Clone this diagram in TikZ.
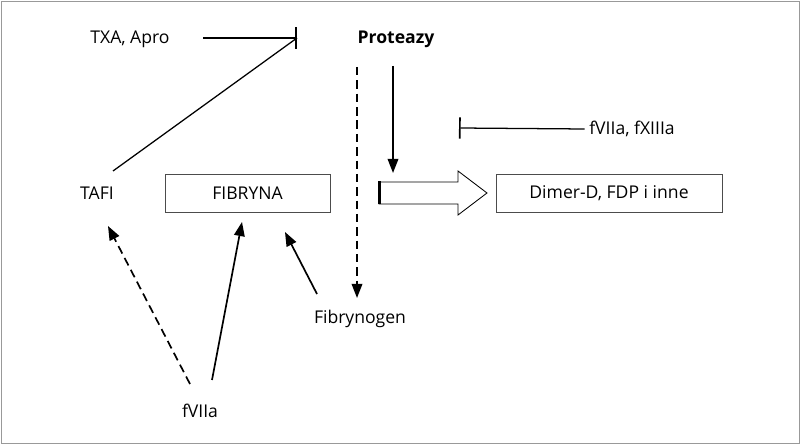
\documentclass[tikz,border=0pt]{standalone}
\usepackage{fontspec}
\setmainfont{Open Sans}
\usetikzlibrary{arrows.meta}
\begin{document}
\begin{tikzpicture}[x=0.025cm,y=-0.025cm,
  fs/.style={font=\fontsize{12.5pt}{14pt}\selectfont},
  lbl/.style={inner sep=1pt,fs},
  box/.style={draw=black!70,line width=0.5pt,minimum height=0.95cm,fs},
  arr/.style={line width=1.2pt,-{Triangle[length=10pt,width=7.5pt]}},
  dsh/.style={dash pattern=on 6pt off 3.5pt},
  inh/.style={line width=0.9pt,-{Bar[width=15pt,line width=1.2pt]}}]
\draw[black!40,line width=0.6pt] (1,1) rectangle (799,443);
\useasboundingbox (0,0) rectangle (800,444);
\node[lbl] (txa) at (130,39) {TXA, Apro};
\node[lbl,font=\bfseries\fontsize{12.5pt}{14pt}\selectfont] (prot) at (396,39) {Proteazy};
\node[lbl] (fvx) at (632,129) {fVIIa, fXIIIa};
\node[lbl] (tafi) at (97,193) {TAFI};
\node[box,minimum width=4.12cm] (fib) at (247.5,193) {FIBRYNA};
\node[box,minimum width=5.65cm] (dim) at (609,193) {Dimer-D, FDP i inne};
\node[lbl] (fgn) at (360,319) {Fibrynogen};
\node[lbl] (f7) at (200,411) {fVIIa};
\coordinate (tb) at (297,38);
\draw[inh] (203,38) -- (tb);
\draw[line width=0.9pt] (113,171) -- (tb);
\draw[arr,dsh] (357,67) -- (357,298);
\draw[arr] (393,66) -- (393,173);
\draw[inh] (fvx.west)+(-3,0) -- (459,128);
\draw[line width=0.6pt] (379,182) -- (458,182) -- (458,171) -- (487,193) -- (458,215) -- (458,204) -- (379,204) -- cycle;
\draw[line width=2pt] (379.5,181.5) -- (379.5,204.5);
\draw[arr] (317,294) -- (285,232);
\draw[arr] (212,380) -- (242,222);
\draw[arr,dsh] (190,384) -- (108,226);
\end{tikzpicture}
\end{document}
